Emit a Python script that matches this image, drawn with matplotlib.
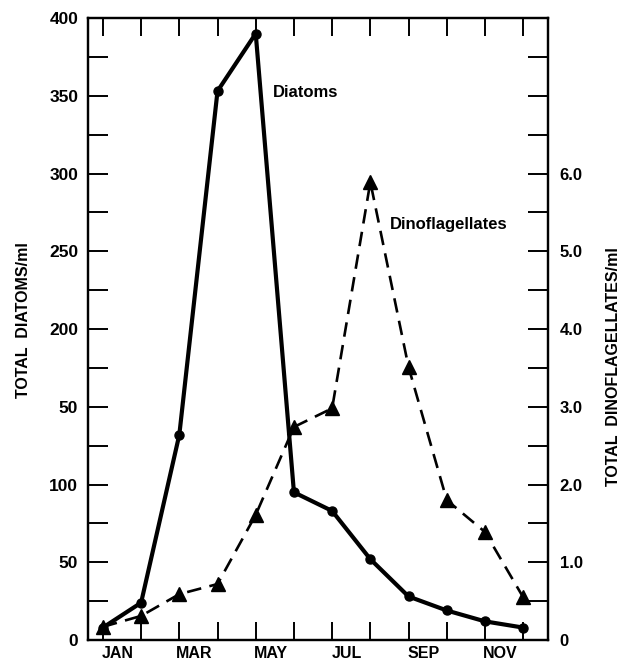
import matplotlib
matplotlib.use("Agg")
import matplotlib.pyplot as plt
import matplotlib.transforms as mtransforms
import numpy as np

months = ["JAN", "FEB", "MAR", "APR", "MAY", "JUN", "JUL", "AUG", "SEP", "OCT", "NOV", "DEC"]
month_labels = ["JAN", "", "MAR", "", "MAY", "", "JUL", "", "SEP", "", "NOV", ""]
diatoms = [8, 24, 132, 353, 390, 95, 83, 52, 28, 19, 12, 8]
dinoflagellates = [0.17, 0.31, 0.59, 0.72, 1.61, 2.74, 2.98, 5.89, 3.51, 1.80, 1.39, 0.55]

left_ticks = [0, 25, 50, 75, 100, 125, 150, 175, 200, 225, 250, 275, 300, 325, 350, 375, 400]
left_labels = ["0", "", "50", "", "100", "", "50", "", "200", "", "250", "", "300", "", "350", "", "400"]
right_ticks = [0, 0.5, 1.0, 1.5, 2.0, 2.5, 3.0, 3.5, 4.0, 4.5, 5.0, 5.5, 6.0, 6.5, 7.0, 7.5, 8.0]
right_labels = ["0", "", "1.0", "", "2.0", "", "3.0", "", "4.0", "", "5.0", "", "6.0", "", "", "", ""]

plt.rcParams['font.family'] = ['Liberation Sans', 'DejaVu Sans']
plt.rcParams['font.weight'] = 'bold'

fig = plt.figure(figsize=(6.25, 6.64), dpi=100)
ax = fig.add_axes([0.1408, 0.0361, 0.736, 0.9368])
ax2 = ax.twinx()

x = np.arange(len(months))
ax.plot(x, diatoms, color='black', lw=3.0, marker='o', ms=6.5, zorder=3)
ax2.plot(x, dinoflagellates, color='black', lw=1.9, ls=(0, (5.5, 3.2)), marker='^', ms=9.5, zorder=3)

ax.set_xlim(-0.39, 11.65)
ax.set_ylim(0, 400)
ax2.set_ylim(0, 8.0)

ax.set_xticks(x)
ax.set_xticklabels(month_labels, fontsize=11.5, fontweight='bold')
ax.set_yticks(left_ticks)
ax.set_yticklabels(left_labels, fontsize=12.5, fontweight='bold')
ax2.set_yticks(right_ticks)
ax2.set_yticklabels(right_labels, fontsize=12, fontweight='bold')

ax.tick_params(axis='x', which='both', direction='in', length=13, width=1.4,
               top=True, bottom=True, pad=4.5)
ax.tick_params(axis='y', direction='in', length=14.5, width=1.4, pad=7)
ax2.tick_params(axis='y', direction='in', length=14.5, width=1.4, pad=8.5)

shift = mtransforms.ScaledTranslation(15 / 100, 0, fig.dpi_scale_trans)
for lab in ax.get_xticklabels():
    lab.set_transform(lab.get_transform() + shift)

for a in (ax, ax2):
    for s in a.spines.values():
        s.set_linewidth(1.6)

fig.text(24 / 625, 1 - 320 / 664, "TOTAL  DIATOMS/ml", fontsize=11.5, fontweight='bold',
         rotation=90, ha='center', va='center')
fig.text(613 / 625, 1 - 367 / 664, "TOTAL  DINOFLAGELLATES/ml", fontsize=11.5, fontweight='bold',
         rotation=90, ha='center', va='center')

ax.text(4.45, 352, "Diatoms", fontsize=12, fontweight='bold', va='center', ha='left')
ax2.text(7.5, 5.35, "Dinoflagellates", fontsize=12, fontweight='bold', va='center', ha='left')

fig.savefig("out.png", dpi=100)
